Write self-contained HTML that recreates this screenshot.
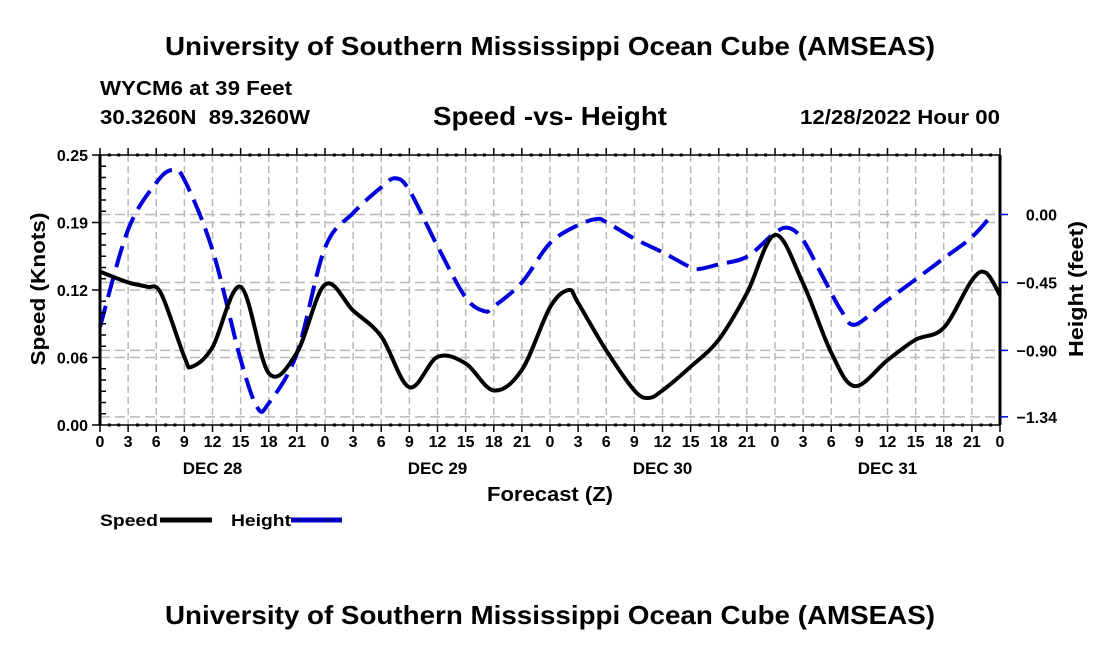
<!DOCTYPE html>
<html><head><meta charset="utf-8"><style>
body{margin:0;background:#fff;}
svg{display:block;font-family:"Liberation Sans",Arial,sans-serif;font-weight:bold;}
</style></head><body>
<svg id="chart" width="1100" height="650" viewBox="0 0 1100 650" xmlns="http://www.w3.org/2000/svg">
<text x="165" y="55" font-size="26" textLength="770" lengthAdjust="spacingAndGlyphs">University of Southern Mississippi Ocean Cube (AMSEAS)</text>
<text x="100" y="95" font-size="20" textLength="192" lengthAdjust="spacingAndGlyphs">WYCM6 at 39 Feet</text>
<text x="100" y="124" font-size="20" xml:space="preserve" textLength="210" lengthAdjust="spacingAndGlyphs">30.3260N  89.3260W</text>
<text x="433" y="125" font-size="26" textLength="234" lengthAdjust="spacingAndGlyphs">Speed -vs- Height</text>
<text x="800" y="124" font-size="20" textLength="200" lengthAdjust="spacingAndGlyphs">12/28/2022 Hour 00</text>
<g id="grid"></g>
<g id="series"></g>
<g id="axes"></g>
<text x="487" y="501" font-size="20" textLength="126" lengthAdjust="spacingAndGlyphs">Forecast (Z)</text>
<text transform="translate(45,289) rotate(-90)" text-anchor="middle" font-size="20" textLength="153" lengthAdjust="spacingAndGlyphs">Speed (Knots)</text>
<text transform="translate(1083,289) rotate(-90)" text-anchor="middle" font-size="20" textLength="136" lengthAdjust="spacingAndGlyphs">Height (feet)</text>
<g>
<text x="100" y="526" font-size="17" textLength="58" lengthAdjust="spacingAndGlyphs">Speed</text>
<line x1="160" y1="520" x2="212" y2="520" stroke="#000" stroke-width="5"/>
<text x="231" y="526" font-size="17" textLength="60" lengthAdjust="spacingAndGlyphs">Height</text>
<line x1="291" y1="520" x2="342" y2="520" stroke="#0000cc" stroke-width="5"/>
<line x1="293" y1="520" x2="340" y2="520" stroke="#000" stroke-width="1" stroke-dasharray="10,5" opacity="0.5"/>
</g>
<text x="165" y="624" font-size="26" textLength="770" lengthAdjust="spacingAndGlyphs">University of Southern Mississippi Ocean Cube (AMSEAS)</text>
</svg>
<script>
const speedHours=[0,3,5,6.5,9,9.8,12,15,18,21,24,27,30,33,36,39,42,45,48,50,51,54,57,58.5,60,63,66,69,72,75,78,80.5,84,87,90,93,94.5,96];
const speedValues=[0.142,0.132,0.128,0.122,0.063,0.054,0.072,0.128,0.048,0.067,0.130,0.106,0.082,0.035,0.063,0.057,0.032,0.051,0.109,0.125,0.113,0.069,0.032,0.025,0.032,0.054,0.079,0.122,0.176,0.131,0.067,0.036,0.060,0.079,0.090,0.134,0.141,0.120];
const heightHours=[0,3,6,7.7,9,12,15,16.8,18,21,24,27,30,31.5,33,36,39,41,42,45,48,51,53,54,57,60,63,64,66,69,72,73.5,75,77,79,80.5,83.5,87,90,93,95.3];
const heightValues=[-0.745,-0.10,0.21,0.295,0.23,-0.235,-0.96,-1.28,-1.25,-0.92,-0.22,0.01,0.18,0.24,0.16,-0.21,-0.55,-0.64,-0.61,-0.45,-0.19,-0.07,-0.03,-0.05,-0.16,-0.25,-0.35,-0.36,-0.33,-0.28,-0.12,-0.09,-0.17,-0.40,-0.63,-0.73,-0.59,-0.43,-0.29,-0.15,0.01];
const hourTickLabels=["0","3","6","9","12","15","18","21"];
const dayLabels=["DEC 28","DEC 29","DEC 30","DEC 31"];
const leftTicks=[0,0.0625,0.125,0.1875,0.25];
const leftTickLabels=["0.00","0.06","0.12","0.19","0.25"];
const rightTicks=[0,-0.45,-0.90,-1.34];
const rightTickLabels=["0.00","\u22120.45","\u22120.90","\u22121.34"];

const NS="http://www.w3.org/2000/svg";
const X0=100,X1=1000,Y0=155,Y1=425;
const xs=h=>X0+h*(X1-X0)/96;
const yl=v=>Y1-v*(Y1-Y0)/0.25;
const yr=v=>214.5-v*151;
function mk(tag,attrs,parent){const e=document.createElementNS(NS,tag);for(const k in attrs)e.setAttribute(k,attrs[k]);parent.appendChild(e);return e;}
const grid=document.getElementById('grid'),axes=document.getElementById('axes'),series=document.getElementById('series');
for(let h=3;h<96;h+=3){const l=mk('line',{x1:xs(h),y1:Y0,x2:xs(h),y2:Y1,stroke:'#b8b8b8','stroke-width':1.5,'stroke-dasharray':'7,4'},grid);

}
leftTicks.slice(1,4).forEach(v=>{const l=mk('line',{x1:X0,y1:yl(v),x2:X1,y2:yl(v),stroke:'#b8b8b8','stroke-width':1.5,'stroke-dasharray':'10,5'},grid);

});
rightTicks.forEach(v=>{const l=mk('line',{x1:X0,y1:yr(v),x2:X1,y2:yr(v),stroke:'#b8b8b8','stroke-width':1.5,'stroke-dasharray':'10,5'},grid);

});
function spline(hs,vs,yf){const p=hs.map((h,i)=>[xs(h),yf(vs[i])]);let d=`M${p[0][0]},${p[0][1]}`;
for(let i=0;i<p.length-1;i++){const a=p[Math.max(0,i-1)],b=p[i],c=p[i+1],e=p[Math.min(p.length-1,i+2)];
const c1=[b[0]+(c[0]-a[0])/6,b[1]+(c[1]-a[1])/6],c2=[c[0]-(e[0]-b[0])/6,c[1]-(e[1]-b[1])/6];
d+=` C${c1[0]},${c1[1]} ${c2[0]},${c2[1]} ${c[0]},${c[1]}`;}return d;}
const hp=mk('path',{d:spline(heightHours,heightValues,yr),fill:'none',stroke:'#0000dd','stroke-width':4,'stroke-dasharray':'22,9'},series);


const sp=mk('path',{d:spline(speedHours,speedValues,yl),fill:'none',stroke:'#000','stroke-width':4,'stroke-linejoin':'round'},series);


[[X0,Y0,X1,Y0,1.5],[X0,Y1,X1,Y1,1.5],[X0,Y0,X0,Y1,3],[X1,Y0,X1,Y1,3]].forEach(a=>{const l=mk('line',{x1:a[0],y1:a[1],x2:a[2],y2:a[3],stroke:'#000','stroke-width':a[4]},axes);

});
for(let h=0;h<=96;h++){const maj=h%3===0;
[Y0,Y1].forEach((y,k)=>{const t=mk('line',{x1:xs(h),y1:maj?(k?y:y-7):y-1.5,x2:xs(h),y2:maj?(k?y+7:y):y+1.5,stroke:'#000','stroke-width':maj?1.5:3},axes);

});
if(maj){const tx=mk('text',{x:xs(h),y:447,'text-anchor':'middle','font-size':16},axes);tx.textContent=hourTickLabels[(h/3)%8];

}}
dayLabels.forEach((s,i)=>{const t=mk('text',{x:xs(12+24*i),y:474,'text-anchor':'middle','font-size':17},axes);t.textContent=s;

});
for(let v=0;v<=0.25001;v+=0.25/24){const maj=leftTicks.some(t=>Math.abs(t-v)<1e-6);const t=mk('line',{x1:maj?X0-8:X0,y1:yl(v),x2:X0+(maj?0:6),y2:yl(v),stroke:'#000','stroke-width':1.5},axes);

}
leftTicks.forEach((v,i)=>{const t=mk('text',{x:88,y:yl(v)+6,'text-anchor':'end','font-size':16},axes);t.textContent=leftTickLabels[i];

});
rightTicks.forEach((v,i)=>{const l=mk('line',{x1:X1,y1:yr(v),x2:X1+8,y2:yr(v),stroke:'#0000cc','stroke-width':1.5},axes);


const t=mk('text',{x:1057,y:yr(v)+6,'text-anchor':'end','font-size':16},axes);t.textContent=rightTickLabels[i];

});
</script>
</body></html>
